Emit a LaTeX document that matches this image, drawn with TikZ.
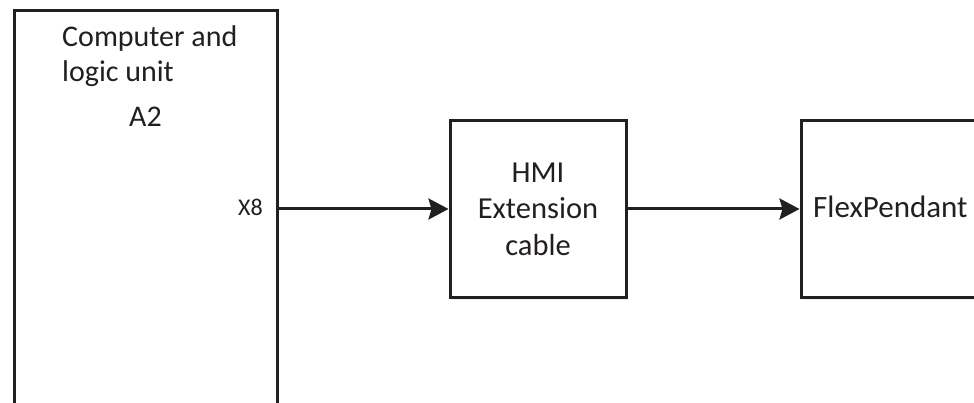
\documentclass[tikz,border=0pt]{standalone}
\usepackage{fontspec}
\setmainfont{Carlito}
\usetikzlibrary{arrows.meta,shadows}
\definecolor{ink}{HTML}{231F20}
\definecolor{glow}{HTML}{DCEBFA}
\begin{document}
\begin{tikzpicture}[x=1pt,y=-1pt,
  box/.style={draw=ink,line width=3pt,fill=white,inner sep=0pt,
    drop shadow={fill=glow,opacity=0.8,shadow xshift=1.5pt,shadow yshift=-2.5pt}},
  txt/.style={text=ink,font=\fontsize{30}{35}\selectfont,inner sep=0pt},
  arr/.style={draw=ink,line width=3pt,-{Stealth[length=20pt,width=21pt,inset=3pt]}}]
\useasboundingbox (0,0) rectangle (974,403);
\clip (0,0) rectangle (974,403);
\node[box,minimum width=263pt,minimum height=440pt] (cu) at (145.5,231) {};
\node[box,minimum width=176pt,minimum height=176pt,align=center,text=ink,
  font=\fontsize{30.5}{36.5}\selectfont] (hmi) at (538,209) {HMI\\Extension\\cable};
\node[box,minimum width=176pt,minimum height=176pt] (fp) at (889,209) {};
\node[txt,anchor=base west,align=left] (cul) at (62,82) {Computer and\\logic unit};
\node[txt,anchor=base] (a2) at (145.5,127) {A2};
\node[txt,anchor=base east,font=\fontsize{24}{28}\selectfont] (x8) at (263,216) {X8};
\node[txt,anchor=base west,font=\fontsize{31}{36}\selectfont] (fpl) at (813,218) {FlexPendant};
\draw[arr] (cu.east |- hmi.west) -- (hmi.west);
\draw[arr] (hmi.east) -- (fp.west);
\end{tikzpicture}
\end{document}
